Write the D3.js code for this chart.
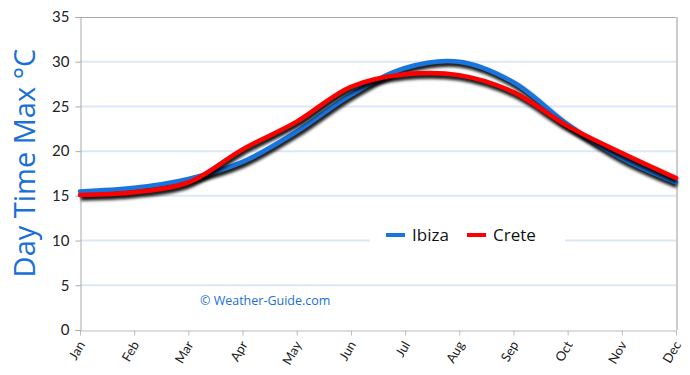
<!DOCTYPE html>
<html>
<head>
<meta charset="utf-8">
<script src="https://cdn.jsdelivr.net/npm/d3@7"></script>
<style>
  body { margin: 0; background: #fff; }
  svg { display: block; }
</style>
</head>
<body>
<div id="chart"></div>
<script>
// monthly day time max temperatures
const months = ["Jan", "Feb", "Mar", "Apr", "May", "Jun", "Jul", "Aug", "Sep", "Oct", "Nov", "Dec"];
const ibiza = [15.5, 15.9, 16.9, 18.8, 22.2, 26.3, 29.3, 30.0, 27.7, 23.0, 19.2, 16.5];
const crete = [15.1, 15.4, 16.5, 20.2, 23.3, 27.2, 28.6, 28.5, 26.6, 22.8, 19.8, 17.0];
const yTicks = [0, 5, 10, 15, 20, 25, 30, 35];

const width = 690, height = 375;
const margin = { top: 17, right: 14, bottom: 45, left: 80 };

const svg = d3.select("#chart").append("svg")
  .attr("width", width)
  .attr("height", height);

//blur for the drop shadow under each line
const filter = svg.append("defs").append("filter")
  .attr("id", "shadow")
  .attr("x", "-5%").attr("y", "-20%")
  .attr("width", "110%").attr("height", "140%");
filter.append("feGaussianBlur").attr("stdDeviation", 1.5);

const x = d3.scalePoint()
  .domain(months)
  .range([margin.left, width - margin.right]);

const y = d3.scaleLinear()
  .domain([0, 35])
  .range([height - margin.bottom, margin.top]);

//grid lines
svg.append("g")
  .selectAll("line")
  .data(yTicks.filter(d => d > 0 && d < 35))
  .enter().append("line")
  .attr("x1", margin.left)
  .attr("x2", width - margin.right)
  .attr("y1", d => y(d))
  .attr("y2", d => y(d))
  .style("stroke", "#dde7f6")
  .style("stroke-width", 2);

//frame: top and right edges
svg.append("line")
  .attr("x1", margin.left).attr("x2", width - margin.right)
  .attr("y1", margin.top + 0.5).attr("y2", margin.top + 0.5)
  .style("stroke", "#aaaaaa");
svg.append("line")
  .attr("x1", width - margin.right + 1).attr("x2", width - margin.right + 1)
  .attr("y1", margin.top).attr("y2", height - margin.bottom)
  .style("stroke", "#cccccc")
  .style("stroke-width", 2);

//y axis
const yAxis = svg.append("g")
  .attr("transform", "translate(" + (margin.left + 0.5) + ",0)")
  .call(d3.axisLeft(y).tickValues(yTicks).tickSize(5).tickPadding(6));
yAxis.select(".domain").style("stroke", "#aaaaaa");
yAxis.selectAll(".tick line").style("stroke", "#aaaaaa");
yAxis.selectAll(".tick text")
  .style("font-family", "Lato, 'Noto Sans', sans-serif")
  .style("font-size", "15px")
  .style("fill", "#222");

//x axis
const xAxis = svg.append("g")
  .attr("transform", "translate(0," + (height - margin.bottom + 0.5) + ")")
  .call(d3.axisBottom(x).tickSize(5).tickSizeOuter(0));
xAxis.select(".domain").style("stroke", "#bbbbbb");
xAxis.selectAll(".tick line").style("stroke", "#bbbbbb");
xAxis.selectAll(".tick text")
  .style("font-family", "Lato, 'Noto Sans', sans-serif")
  .style("font-size", "13px")
  .style("fill", "#222")
  .attr("text-anchor", "end")
  .attr("dy", null)
  .attr("y", 0)
  .attr("transform", "translate(5,14) rotate(-60)");

//y axis title
svg.append("text")
  .attr("transform", "translate(35,163) rotate(-90)")
  .attr("text-anchor", "middle")
  .style("font-family", "'Open Sans', sans-serif")
  .style("font-size", "29px")
  .style("fill", "#1a6fd8")
  .text("Day Time Max °C");

//watermark
svg.append("text")
  .attr("x", 200)
  .attr("y", 305)
  .style("font-family", "'Open Sans', sans-serif")
  .style("font-size", "12.5px")
  .style("fill", "#1a6fd8")
  .text("©  Weather-Guide.com");

const line = d3.line()
  .x((d, i) => x(months[i]))
  .y(d => y(d))
  .curve(d3.curveCatmullRom.alpha(0.5));

const series = [
  { name: "Ibiza", values: ibiza, color: "#1874df" },
  { name: "Crete", values: crete, color: "#ff0000" }
];

series.forEach(function (s) {
  svg.append("path")
    .attr("d", line(s.values))
    .attr("transform", "translate(1,3)")
    .style("fill", "none")
    .style("stroke", "#000")
    .style("stroke-opacity", 0.9)
    .style("stroke-width", 5.5)
    .style("filter", "url(#shadow)");
  svg.append("path")
    .attr("d", line(s.values))
    .style("fill", "none")
    .style("stroke", s.color)
    .style("stroke-width", 4.5)
    .style("stroke-linecap", "round");
});

//legend
const legend = svg.append("g");
legend.append("rect")
  .attr("x", 370).attr("y", 218)
  .attr("width", 195).attr("height", 30)
  .style("fill", "#fff");
const legendX = [386, 467];
series.forEach(function (s, i) {
  legend.append("line")
    .attr("x1", legendX[i]).attr("x2", legendX[i] + 19)
    .attr("y1", 235).attr("y2", 235)
    .style("stroke", s.color)
    .style("stroke-width", 4);
  legend.append("text")
    .attr("x", legendX[i] + 26)
    .attr("y", 241)
    .style("font-family", "'Open Sans', sans-serif")
    .style("font-size", "17px")
    .style("fill", "#111")
    .text(s.name);
});
</script>
</body>
</html>
